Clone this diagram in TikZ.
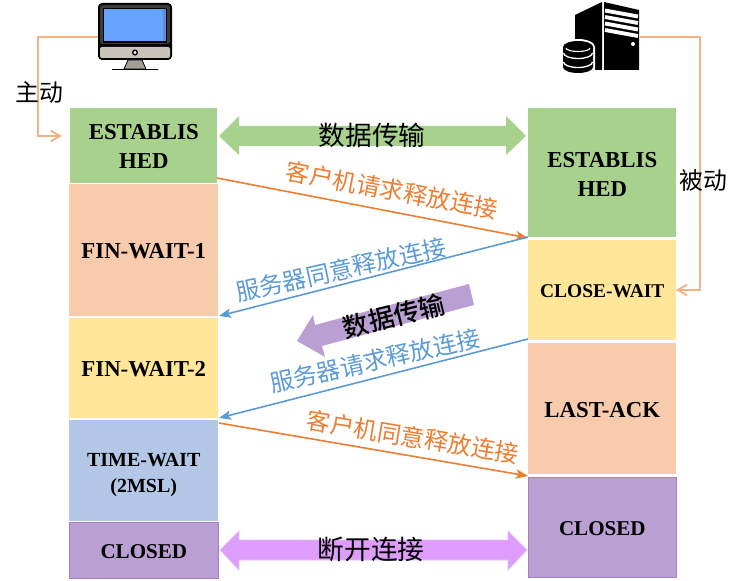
\documentclass[tikz,border=0pt]{standalone}
\usepackage{fontspec}
\setmainfont{Liberation Serif}
\newfontfamily\cjk{Noto Sans CJK SC}
\newfontfamily\cjkbold{Noto Sans CJK SC Medium}
\usetikzlibrary{arrows.meta}
\definecolor{cgreen}{HTML}{A9D18E}
\definecolor{cpeach}{HTML}{F8CBAD}
\definecolor{cyellow}{HTML}{FFE699}
\definecolor{cblue}{HTML}{B4C7E7}
\definecolor{cpurple}{HTML}{BA9FD2}
\definecolor{cpurpleline}{HTML}{A681C2}
\definecolor{cviolet}{HTML}{DE9DFC}
\definecolor{cvioletline}{HTML}{E6C0F8}
\definecolor{lineorange}{HTML}{ED7D31}
\definecolor{lineblue}{HTML}{5B9BD5}
\definecolor{linepale}{HTML}{F4B183}
\definecolor{scrblue}{HTML}{66A3FF}
\definecolor{scrdark}{HTML}{5B8FDD}
\definecolor{bezel}{HTML}{3C3C3C}
\definecolor{basegray}{HTML}{C8C4BC}
\definecolor{standgray}{HTML}{A09E96}
\tikzset{
  x=0.75pt,y=-0.75pt,
  statebox/.style={anchor=north west,inner sep=0pt,align=center,font=\fontsize{17.1}{21.8}\selectfont\bfseries},
  smallstate/.style={font=\fontsize{15}{19.5}\selectfont\bfseries},
  closedstate/.style={font=\fontsize{15.8}{20}\selectfont\bfseries,draw=cpurpleline,line width=.5pt},
  msgorange/.style={draw=lineorange,line width=1.2pt,-{Stealth[length=9pt,width=7pt,inset=2pt]}},
  msgblue/.style={draw=lineblue,line width=1.2pt,-{Stealth[length=9pt,width=7pt,inset=2pt]}},
  palearrow/.style={draw=linepale,line width=1.4pt,-{Straight Barb[length=7pt,width=8pt]}},
  lab/.style={font=\cjk\fontsize{17.9}{20}\selectfont},
  biglab/.style={font=\cjk\fontsize{20}{22}\selectfont},
}
% #1 style, #2 name, #3 text, #4 fill, #5 x, #6 y, #7 w, #8 h, #9 downward shift of text (px)
\newcommand{\statenode}[9][]{\node[statebox,fill=#4,text width=#7*0.75pt,minimum width=#7*0.75pt,minimum height=#8*0.75pt,#1] (#2) at (#5,#6) {\rule{0pt}{\dimexpr\fontcharht\font`E+#9pt*3/2\relax}#3};}
\begin{document}
\begin{tikzpicture}
\useasboundingbox (0,0) rectangle (742,581);
% states
\statenode{lest}{ESTABLIS\\HED}{cgreen}{70}{108}{147}{75}{0.5}
\statenode{lfin1}{FIN-WAIT-1}{cpeach}{69}{184}{149}{132}{1}
\statenode{lfin2}{FIN-WAIT-2}{cyellow}{69}{318}{149}{100}{1}
\statenode[smallstate]{ltime}{TIME-WAIT\\(2MSL)}{cblue}{69}{420}{149}{101}{4}
\statenode[closedstate]{lclosed}{CLOSED}{cpurple}{69}{522}{149}{56}{1.5}
\statenode{rest}{ESTABLIS\\HED}{cgreen}{528}{108}{148}{129}{2}
\statenode[smallstate,font=\fontsize{14.6}{19}\selectfont\bfseries]{rclose}{CLOSE-WAIT}{cyellow}{528}{240}{148}{100}{1}
\statenode{rlast}{LAST-ACK}{cpeach}{528}{343}{148}{131}{1}
\statenode[closedstate]{rclosed}{CLOSED}{cpurple}{528}{477}{148}{100}{1}
% computer icon
\fill[black,rounded corners=3pt] (98,3) rectangle (172,60);
\fill[bezel,rounded corners=2pt] (100,5) rectangle (170,44);
\fill[black] (103,8) rectangle (167,43);
\fill[scrblue] (104,9) rectangle (166,41);
\fill[scrdark] (163,9) rectangle (166,41);
\fill[basegray,rounded corners=1.5pt] (100,47) rectangle (170,58);
\filldraw[fill=white,draw=black,line width=1pt] (135,52.5) circle (2.3);
\fill[standgray,draw=black,line width=.6pt] (128,60) -- (142,60) -- (146,69) -- (124,69) -- cycle;
\draw[black,line width=1pt] (112,69.5) -- (158,69.5);
\coordinate (pcport) at (98,37);
% server icon
\fill[black] (575,15) -- (602,2) -- (602,70) -- (575,70) -- cycle;
\fill[black] (604,2) -- (639,10) -- (639,70) -- (604,70) -- cycle;
\foreach \y in {10.5,17,23.5,30}{
  \draw[white,line width=2.9pt] (605,\y) -- (638,\y+6);
}
\fill[white] (633,44) circle (2);
\fill[white] (561,47) arc[start angle=180,end angle=360,x radius=17,y radius=8] -- (595,72) -- (587,76) -- (569,76) -- (561,72) -- cycle;
\fill[black] (563,47) arc[start angle=180,end angle=360,x radius=15,y radius=6] -- (593,67) arc[start angle=0,end angle=180,x radius=15,y radius=6] -- cycle;
\draw[white,line width=.8pt] (566,48) arc[start angle=180,end angle=0,x radius=12,y radius=3.5];
\draw[white,line width=1pt] (563.5,53) arc[start angle=180,end angle=0,x radius=14.5,y radius=5.5];
\draw[white,line width=1pt] (563.5,62) arc[start angle=180,end angle=0,x radius=14.5,y radius=5.5];
\coordinate (srvport) at (640,37);
% side connectors
\coordinate (lin) at (62,136);
\coordinate (rin) at (676,290);
\draw[palearrow] (pcport) -- (38,37) -- (38,136) -- (lin);
\draw[palearrow] (srvport) -- (700,37) -- (700,290) -- (rin);
\node[lab,inner sep=0pt] (zhu) at (39,92) {主动};
\node[lab,inner sep=0pt] (bei) at (703,180) {被动};
% wide arrows
\fill[cgreen] (219,136) -- (239,116) -- (239,126) -- (506,126) -- (506,116) -- (526,136) -- (506,155) -- (506,146) -- (239,146) -- (239,155) -- cycle;
\node[biglab,inner sep=0pt] (trans1) at (372,135) {数据传输};
\filldraw[fill=cviolet,draw=cvioletline,line width=.6pt] (220,550) -- (239,531) -- (239,540) -- (508,540) -- (508,531) -- (527,550) -- (508,570) -- (508,560) -- (239,560) -- (239,570) -- cycle;
\node[biglab,inner sep=0pt] (close1) at (371,549) {断开连接};
\fill[cpurple] (469,284) -- (474,305) -- (322,346) -- (325,357) -- (297,341) -- (313,315) -- (315,325) -- cycle;
\node[inner sep=0pt,rotate=14,font=\cjkbold\fontsize{19.5}{22}\selectfont] (trans2) at (394,316) {数据传输};
% messages
\coordinate (m1a) at (217,178); \coordinate (m1b) at (528,238);
\coordinate (m2a) at (528,237); \coordinate (m2b) at (219,316);
\coordinate (m3a) at (528,339); \coordinate (m3b) at (219,418);
\coordinate (m4a) at (219,423); \coordinate (m4b) at (528,476);
\draw[msgorange] (m1a) -- (m1b);
\draw[msgblue] (m2a) -- (m2b);
\draw[msgblue] (m3a) -- (m3b);
\draw[msgorange] (m4a) -- (m4b);
\node[lab,text=lineorange,inner sep=0pt,rotate=-10.5] (t1) at (392,190) {客户机请求释放连接};
\node[lab,text=lineblue,inner sep=0pt,rotate=12.5] (t2) at (341,269.5) {服务器同意释放连接};
\node[lab,text=lineblue,inner sep=0pt,rotate=12.5] (t3) at (375,360.5) {服务器请求释放连接};
\node[lab,text=lineorange,inner sep=0pt,rotate=-9.5] (t4) at (413,437) {客户机同意释放连接};
\end{tikzpicture}
\end{document}
